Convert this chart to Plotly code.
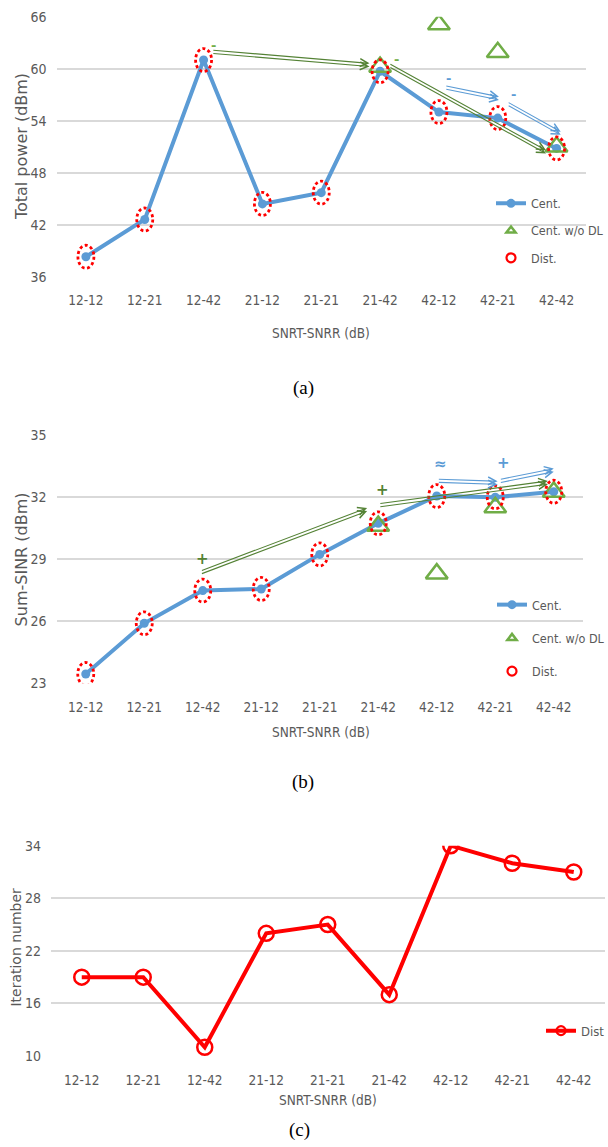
import plotly.graph_objects as go

# ---------------- data ----------------
categories = ["12-12", "12-21", "12-42", "21-12", "21-21", "21-42", "42-12", "42-21", "42-42"]

power_cent = [38.3, 42.6, 61.0, 44.4, 45.7, 59.7, 55.0, 54.3, 50.8]
power_dist = [38.3, 42.6, 61.0, 44.4, 45.7, 59.7, 55.0, 54.3, 50.8]
power_nodl = [None, None, None, None, None, 60.2, 65.1, 61.9, 51.0]

sinr_cent = [23.45, 25.9, 27.48, 27.56, 29.23, 30.73, 32.05, 31.99, 32.26]
sinr_dist = [23.45, 25.9, 27.48, 27.56, 29.23, 30.73, 32.05, 31.99, 32.26]
sinr_nodl = [None, None, None, None, None, 30.6, 28.3, 31.5, 32.25]

iter_dist = [19, 19, 11, 24, 25, 17, 34, 32, 31]

power_ticks = [36, 42, 48, 54, 60, 66]
sinr_ticks = [23, 26, 29, 32, 35]
iter_ticks = [10, 16, 22, 28, 34]

# trend arrows (x_from, y_from, x_to, y_to) in category-index / value units
power_arrows_green = [(2.14, 61.96, 4.82, 60.43), (5.15, 60.43, 7.82, 50.4)]
power_arrows_blue = [(6.10, 57.85, 7.02, 56.58), (7.16, 56.0, 8.07, 52.55)]
power_marks_green = [(2.17, 62.73, "-"), (5.28, 61.08, "-")]
power_marks_blue = [(6.17, 58.89, "-"), (7.26, 57.05, "-")]

sinr_arrows_green = [(1.96, 28.35, 4.81, 31.4), (5.01, 31.6, 7.9, 32.7)]
sinr_arrows_blue = [(6.01, 32.79, 7.04, 32.69), (7.07, 32.77, 8.0, 33.3)]
sinr_marks_green = [(1.99, 29.0, "+"), (5.07, 32.34, "+")]
sinr_marks_blue = [(6.06, 33.58, "≈"), (7.14, 33.63, "+")]

# ---------------- styles ----------------
W, H = 608, 1147
BLUE = "#5B9BD5"
GREEN = "#70AD47"
DGREEN = "#548235"
RED = "#FF0000"
GRAY = "#595959"
GRID = "#D9D9D9"
NARROW = "Liberation Sans Narrow, Arial Narrow, DejaVu Sans Condensed, sans-serif"
WIDE = "DejaVu Sans, Verdana, sans-serif"
SERIF = "Liberation Serif, Times New Roman, serif"


def fx(px):
    return px / W


def fy(py):
    return 1 - py / H


fig = go.Figure()

# ---------- (a) total power ----------
fig.add_trace(go.Scatter(x=categories, y=power_cent, mode="lines+markers",
                         line=dict(color=BLUE, width=4),
                         marker=dict(symbol="circle", size=9, color=BLUE),
                         xaxis="x", yaxis="y", showlegend=False))
fig.add_trace(go.Scatter(x=categories, y=power_nodl, mode="markers",
                         marker=dict(symbol="triangle-up-open", size=19, color=GREEN,
                                     line=dict(width=2.5, color=GREEN)),
                         xaxis="x", yaxis="y", showlegend=False))

# ---------- (b) sum-SINR ----------
fig.add_trace(go.Scatter(x=categories, y=sinr_cent, mode="lines+markers",
                         line=dict(color=BLUE, width=4),
                         marker=dict(symbol="circle", size=9, color=BLUE),
                         xaxis="x2", yaxis="y2", showlegend=False))
fig.add_trace(go.Scatter(x=categories, y=sinr_nodl, mode="markers",
                         marker=dict(symbol="triangle-up-open", size=19, color=GREEN,
                                     line=dict(width=2.5, color=GREEN)),
                         xaxis="x2", yaxis="y2", showlegend=False))

# ---------- (c) iteration number ----------
fig.add_trace(go.Scatter(x=categories, y=iter_dist, mode="lines+markers",
                         line=dict(color=RED, width=4),
                         marker=dict(symbol="circle-open", size=15, color=RED,
                                     line=dict(width=2.5, color=RED)),
                         xaxis="x3", yaxis="y3", showlegend=False))
fig.add_trace(go.Scatter(x=[None], y=[None], mode="lines+markers", name="Dist",
                         line=dict(color=RED, width=4),
                         marker=dict(symbol="circle-open", size=9, color=RED,
                                     line=dict(width=2.2, color=RED)),
                         xaxis="x3", yaxis="y3", legend="legend3"))

# legend entries for (a) and (b)
for xa, ya, lg in (("x", "y", "legend"), ("x2", "y2", "legend2")):
    fig.add_trace(go.Scatter(x=[None], y=[None], mode="lines+markers", name="Cent.",
                             line=dict(color=BLUE, width=4),
                             marker=dict(symbol="circle", size=9, color=BLUE),
                             xaxis=xa, yaxis=ya, legend=lg, legendgroup=lg + "a"))
    fig.add_trace(go.Scatter(x=[None], y=[None], mode="markers", name="Cent. w/o DL",
                             marker=dict(symbol="triangle-up-open", size=8, color=GREEN,
                                         line=dict(width=2.5, color=GREEN)),
                             xaxis=xa, yaxis=ya, legend=lg, legendgroup=lg + "b"))
    fig.add_trace(go.Scatter(x=[None], y=[None], mode="markers", name="Dist.",
                             marker=dict(symbol="circle-open", size=9, color=RED,
                                         line=dict(width=2.2, color=RED)),
                             xaxis=xa, yaxis=ya, legend=lg, legendgroup=lg + "c"))

# dotted ellipses for the distributed results
shapes = []
for xr, yr, vals in (("x", "y", power_dist), ("x2", "y2", sinr_dist)):
    for cat, v in zip(categories, vals):
        shapes.append(dict(type="circle", xref=xr, yref=yr,
                           xsizemode="pixel", ysizemode="pixel",
                           xanchor=cat, yanchor=v,
                           x0=-8, x1=8, y0=-11.5, y1=11.5,
                           line=dict(color=RED, width=2.8, dash="3px,2.6px")))

annotations = []


def add_arrows(arrows, color, xr, yr):
    for (x0, y0, x1, y1) in arrows:
        for sh in (1.6, -1.6):
            annotations.append(dict(x=x1, y=y1, ax=x0, ay=y0, xref=xr, yref=yr,
                                    axref=xr, ayref=yr, text="", showarrow=True,
                                    arrowhead=5, arrowsize=1.4, arrowwidth=1.1,
                                    arrowcolor=color, yshift=sh, standoff=0,
                                    startstandoff=0))


def add_marks(marks, color, xr, yr, size):
    for (x, y, t) in marks:
        annotations.append(dict(x=x, y=y, xref=xr, yref=yr, text="<b>" + t + "</b>",
                                showarrow=False,
                                font=dict(family=WIDE, size=size, color=color)))


add_arrows(power_arrows_green, DGREEN, "x", "y")
add_arrows(power_arrows_blue, BLUE, "x", "y")
add_marks(power_marks_green, GREEN, "x", "y", 13)
add_marks(power_marks_blue, BLUE, "x", "y", 13)
add_arrows(sinr_arrows_green, DGREEN, "x2", "y2")
add_arrows(sinr_arrows_blue, BLUE, "x2", "y2")
add_marks(sinr_marks_green, DGREEN, "x2", "y2", 15)
add_marks(sinr_marks_blue, BLUE, "x2", "y2", 15)

# axis titles and captions
texts = [
    ("Total power (dBm)", 21.4, 146.7, -90, WIDE, 16, GRAY),
    ("Sum-SINR (dBm)", 21.4, 559, -90, WIDE, 16, GRAY),
    ("Iteration number", 15.6, 947, -90, WIDE, 14, GRAY),
    ("SNRT-SNRR (dB)", 320.5, 333.3, 0, NARROW, 13.5, GRAY),
    ("SNRT-SNRR (dB)", 320.8, 731.7, 0, NARROW, 13.5, GRAY),
    ("SNRT-SNRR (dB)", 327.5, 1100.3, 0, NARROW, 13.5, GRAY),
    ("(a)", 303, 388.3, 0, SERIF, 19, "#000000"),
    ("(b)", 302.8, 781.7, 0, SERIF, 19, "#000000"),
    ("(c)", 299, 1130.3, 0, SERIF, 19, "#000000"),
]
for t, px, py, ang, fam, sz, col in texts:
    annotations.append(dict(x=fx(px), y=fy(py), xref="paper", yref="paper", text=t,
                            showarrow=False, textangle=ang, xanchor="center",
                            yanchor="middle", font=dict(family=fam, size=sz, color=col)))


def xaxis_cfg(x0, x1, anchor):
    return dict(domain=[fx(x0), fx(x1)], anchor=anchor, type="category",
                categoryorder="array", categoryarray=categories,
                range=[-0.5, 8.5], showgrid=False, showline=False, zeroline=False,
                ticks="", ticklabelstandoff=14, automargin=False,
                tickfont=dict(family=NARROW, size=13.5, color=GRAY))


def yaxis_cfg(y_top, y_bot, anchor, ticks):
    return dict(domain=[fy(y_bot), fy(y_top)], anchor=anchor,
                range=[ticks[0], ticks[-1]], tickvals=ticks,
                showgrid=True, gridcolor=GRID, gridwidth=1.5, zeroline=False,
                showline=False, ticks="", ticklabelstandoff=9, automargin=False,
                tickfont=dict(family=NARROW, size=14, color=GRAY))


def legend_cfg(px, py, size, gap):
    return dict(x=fx(px), y=fy(py), xanchor="left", yanchor="middle",
                bgcolor="rgba(0,0,0,0)",
                font=dict(family=NARROW, size=size, color=GRAY),
                traceorder="grouped", itemwidth=30, tracegroupgap=gap)


fig.update_layout(
    width=W, height=H, margin=dict(l=0, r=0, t=0, b=0, pad=0, autoexpand=False),
    paper_bgcolor="white", plot_bgcolor="white",
    xaxis=xaxis_cfg(56.5, 586, "y"),
    yaxis=yaxis_cfg(16.7, 276.7, "x", power_ticks),
    xaxis2=xaxis_cfg(56.5, 583, "y2"),
    yaxis2=yaxis_cfg(435, 683.3, "x2", sinr_ticks),
    xaxis3=xaxis_cfg(51, 604.5, "y3"),
    yaxis3=yaxis_cfg(845.7, 1056, "x3", iter_ticks),
    legend=legend_cfg(491, 230.7, 12.5, 8),
    legend2=legend_cfg(492, 638, 12.5, 14),
    legend3=legend_cfg(541, 1030.7, 13, 0),
    shapes=shapes,
    annotations=annotations,
    showlegend=True,
)

fig.write_html("out.html", config={"displayModeBar": False},
               post_script="document.body.style.margin='0px';")
